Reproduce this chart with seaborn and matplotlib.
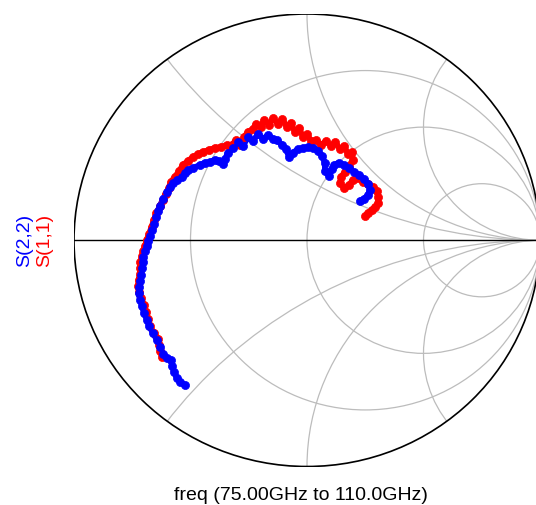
import numpy as np
import matplotlib
matplotlib.use("Agg")
import matplotlib.pyplot as plt
from matplotlib.patches import Circle
import seaborn as sns
import pandas as pd

sns.set_theme(style="white")
plt.rcParams['font.family'] = ['Liberation Sans', 'DejaVu Sans']

# Reflection coefficient data (real, imag)
s22_re = [-0.524, -0.545, -0.558, -0.571, -0.579, -0.584, -0.601, -0.618, -0.631, -0.644,
          -0.661, -0.678, -0.687, -0.700, -0.708, -0.717, -0.723, -0.721, -0.717, -0.712,
          -0.708, -0.706, -0.702, -0.695, -0.688, -0.681, -0.674, -0.665, -0.657, -0.648,
          -0.639, -0.631, -0.618, -0.602, -0.588, -0.574, -0.558, -0.538, -0.524, -0.511,
          -0.489, -0.459, -0.438, -0.416, -0.395, -0.378, -0.361, -0.352, -0.339, -0.318,
          -0.296, -0.275, -0.253, -0.232, -0.210, -0.189, -0.167, -0.146, -0.129, -0.107,
          -0.090, -0.077, -0.060, -0.039, -0.017, 0.004, 0.026, 0.047, 0.064, 0.077,
          0.077, 0.094, 0.107, 0.116, 0.137, 0.159, 0.180, 0.202, 0.223, 0.245,
          0.262, 0.270, 0.262, 0.245, 0.227]
s22_im = [-0.639, -0.626, -0.609, -0.582, -0.555, -0.529, -0.520, -0.502, -0.472, -0.441,
          -0.410, -0.379, -0.352, -0.321, -0.290, -0.264, -0.233, -0.206, -0.180, -0.153,
          -0.122, -0.096, -0.074, -0.047, -0.025, -0.003, 0.019, 0.046, 0.072, 0.103,
          0.129, 0.152, 0.183, 0.213, 0.236, 0.253, 0.266, 0.280, 0.297, 0.311,
          0.319, 0.333, 0.342, 0.346, 0.355, 0.350, 0.337, 0.359, 0.386, 0.408,
          0.434, 0.417, 0.456, 0.439, 0.470, 0.448, 0.465, 0.448, 0.443, 0.421,
          0.403, 0.368, 0.386, 0.403, 0.408, 0.412, 0.408, 0.395, 0.373, 0.342,
          0.306, 0.284, 0.315, 0.333, 0.342, 0.333, 0.319, 0.302, 0.289, 0.271,
          0.249, 0.222, 0.200, 0.183, 0.174]

s11_re = [-0.622, -0.631, -0.635, -0.639, -0.657, -0.674, -0.682, -0.689, -0.700, -0.712,
          -0.721, -0.725, -0.723, -0.717, -0.717, -0.715, -0.708, -0.703, -0.695, -0.688,
          -0.678, -0.667, -0.657, -0.646, -0.631, -0.618, -0.605, -0.594, -0.584, -0.567,
          -0.549, -0.532, -0.511, -0.489, -0.468, -0.446, -0.421, -0.395, -0.369, -0.343,
          -0.322, -0.305, -0.288, -0.270, -0.253, -0.232, -0.219, -0.197, -0.185, -0.163,
          -0.146, -0.124, -0.107, -0.086, -0.069, -0.052, -0.034, -0.017, 0.000, 0.017,
          0.039, 0.060, 0.082, 0.103, 0.120, 0.142, 0.159, 0.176, 0.193, 0.197,
          0.180, 0.163, 0.146, 0.142, 0.159, 0.180, 0.197, 0.219, 0.240, 0.262,
          0.283, 0.300, 0.305, 0.305, 0.292, 0.279, 0.262, 0.249]
s11_im = [-0.516, -0.489, -0.463, -0.436, -0.410, -0.379, -0.348, -0.317, -0.286, -0.255,
          -0.228, -0.202, -0.175, -0.149, -0.122, -0.096, -0.069, -0.047, -0.025, 0.001,
          0.028, 0.059, 0.090, 0.121, 0.152, 0.178, 0.205, 0.231, 0.258, 0.280,
          0.306, 0.333, 0.350, 0.368, 0.381, 0.390, 0.399, 0.408, 0.412, 0.421,
          0.421, 0.443, 0.421, 0.456, 0.479, 0.492, 0.514, 0.501, 0.532, 0.510,
          0.540, 0.514, 0.536, 0.501, 0.518, 0.479, 0.496, 0.456, 0.470, 0.439,
          0.443, 0.421, 0.439, 0.417, 0.434, 0.403, 0.417, 0.381, 0.390, 0.355,
          0.328, 0.302, 0.280, 0.253, 0.231, 0.244, 0.266, 0.275, 0.258, 0.249,
          0.236, 0.218, 0.191, 0.165, 0.147, 0.134, 0.121, 0.107]

r_values = [1/3, 1.0, 3.0]
x_values = [0.5, 1.0, 2.0, -0.5, -1.0, -2.0]

W, H = 536, 505
fig = plt.figure(figsize=(W/100, H/100), dpi=100)
ax = fig.add_axes([74/W, 38.5/H, 466/W, 452.5/H])
ax.set_xlim(-1, 1)
ax.set_ylim(-1, 1)
ax.axis('off')

unit = Circle((0, 0), 1.0, fill=False, edgecolor='black', linewidth=1.2, zorder=3)
ax.add_patch(unit)
clip = Circle((0, 0), 1.0, transform=ax.transData, fill=False)

grid_kw = dict(fill=False, edgecolor='#bcbcbc', linewidth=0.9, zorder=1)
for r in r_values:
    c = Circle((r/(1+r), 0), 1/(1+r), **grid_kw)
    ax.add_patch(c)
    c.set_clip_path(clip)
for xv in x_values:
    c = Circle((1, 1/xv), 1/abs(xv), **grid_kw)
    ax.add_patch(c)
    c.set_clip_path(clip)

ax.plot([-1, 1], [0, 0], color='black', linewidth=1.0, zorder=2)

df11 = pd.DataFrame({'re': s11_re, 'im': s11_im})
df22 = pd.DataFrame({'re': s22_re, 'im': s22_im})
for df, col in [(df11, '#ff0000'), (df22, '#0000ff')]:
    sns.lineplot(data=df, x='re', y='im', sort=False, estimator=None, ax=ax,
                 color=col, linewidth=4.2, zorder=4)
    sns.scatterplot(data=df, x='re', y='im', ax=ax, color=col, s=34,
                    edgecolor=col, linewidth=0.5, zorder=5)
ax.set_xlim(-1, 1)
ax.set_ylim(-1, 1)
ax.axis('off')

fig.text(24.5/W, 1 - 240/H, 'S(2,2)', color='#0000ff', fontsize=14,
         rotation=90, ha='center', va='center')
fig.text(44.5/W, 1 - 240/H, 'S(1,1)', color='#ff0000', fontsize=14,
         rotation=90, ha='center', va='center')
fig.text(301/W, 1 - 495/H, 'freq (75.00GHz to 110.0GHz)', color='black',
         fontsize=14, ha='center', va='center')

fig.savefig('out.png', dpi=100)
